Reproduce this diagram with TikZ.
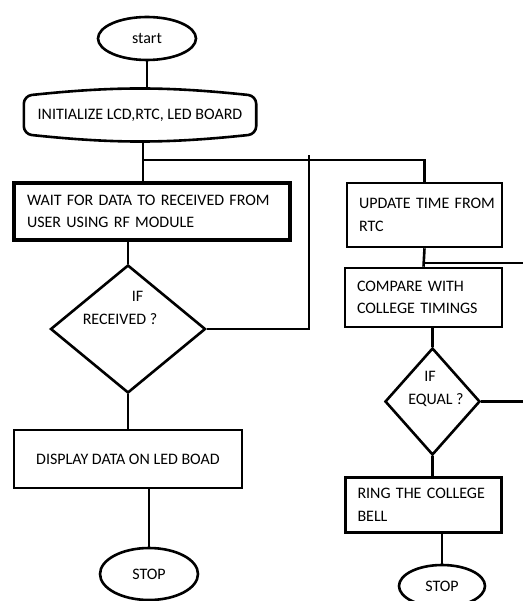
\documentclass[tikz,border=0pt]{standalone}
\usepackage{fontspec}
\setmainfont{Carlito}
\usetikzlibrary{shapes.geometric, shadows}

\tikzset{
  flow/.style={line width=2.6pt},
  procbox/.style={draw, rectangle, line width=2.6pt, inner xsep=12pt, inner ysep=0pt, align=left},
  termin/.style={draw, ellipse, line width=2.6pt, inner sep=0pt},
  decide/.style={draw, diamond, line width=2.6pt, inner sep=0pt},
  ask/.style={align=left, inner sep=0pt},
}

\begin{document}
\begin{tikzpicture}[x=1pt, y=-1pt, every node/.style={font=\fontsize{16}{22.5}\selectfont}]
\useasboundingbox (0,0) rectangle (523,601);
%% left branch
\node[termin, minimum width=98pt, minimum height=43pt] (start) at (147,38.5) {start};
\node[minimum width=232pt, minimum height=50pt] (init) at (140,115) {INITIALIZE LCD,RTC, LED BOARD};
\draw[flow, rounded corners=8pt] ([yshift=-6pt]init.north west) to[bend left=6] ([yshift=-6pt]init.north east)
  -- ([yshift=6pt]init.south east) to[bend left=6] ([yshift=6pt]init.south west) -- cycle;
\node[procbox, line width=3.4pt, drop shadow={opacity=0.25, shadow xshift=1.5pt, shadow yshift=-1.5pt}, fill=white,
  inner xsep=13pt, text width=250pt, minimum height=57pt] (wait) at (152,211.5)
  {\mbox{WAIT FOR DATA TO RECEIVED FROM}\\USER USING RF MODULE};
\node[decide, minimum width=155pt, minimum height=128pt] (dec1) at (128,329) {};
\node[ask] (dec1txt) at (120,308) {\hspace*{49pt}IF\\RECEIVED ?};
\node[procbox, align=center, minimum width=228pt, minimum height=58pt] (show) at (128,459) {DISPLAY DATA ON LED BOAD};
\node[termin, minimum width=98pt, minimum height=52pt] (stop1) at (149,574) {STOP};
%% right branch
\node[procbox, text width=131pt, minimum height=64pt] (update) at (424.5,215) {\mbox{UPDATE TIME FROM}\\RTC};
\node[procbox, text width=133pt, minimum height=59pt] (compare) at (423.5,297.5) {COMPARE WITH\\\mbox{COLLEGE TIMINGS}};
\node[decide, minimum width=95pt, minimum height=107pt] (dec2) at (432.5,401.5) {};
\node[ask] (dec2txt) at (436,389) {\hspace*{16pt}IF\\EQUAL ?};
\node[procbox, text width=132pt, minimum height=55pt] (ring) at (423.5,505) {\mbox{RING THE COLLEGE}\\BELL};
\node[termin, minimum width=86pt, minimum height=42pt] (stop2) at (442,586) {STOP};
%% free ends
\coordinate (jn) at (143,160);
\coordinate (loop) at (309,155);
\coordinate (edge1) at (523,263);
%% connectors
\draw[flow] (start.south) -- (start.south |- init.north);
\draw[flow] (jn |- init.south) -- (jn) -- (jn |- wait.north);
\draw[flow] (jn) -- (update.north |- jn) -- (update.north);
\draw[flow] (dec1.north) -- (dec1.north |- wait.south);
\draw[flow] (dec1.east) -- (loop |- dec1.east) -- (loop);
\draw[flow] (dec1.south) -- (show.north);
\draw[flow] (stop1.north) -- (stop1.north |- show.south);
\draw[flow] (update.south) -- (compare.north);
\draw[flow] (update.south |- edge1) -- (edge1);
\draw[flow] (dec2.north) -- (dec2.north |- compare.south);
\draw[flow] (dec2.east) -- (523,401.5);
\draw[flow] (dec2.south) -- (dec2.south |- ring.north);
\draw[flow] (stop2.north) -- (stop2.north |- ring.south);
\end{tikzpicture}
\end{document}
